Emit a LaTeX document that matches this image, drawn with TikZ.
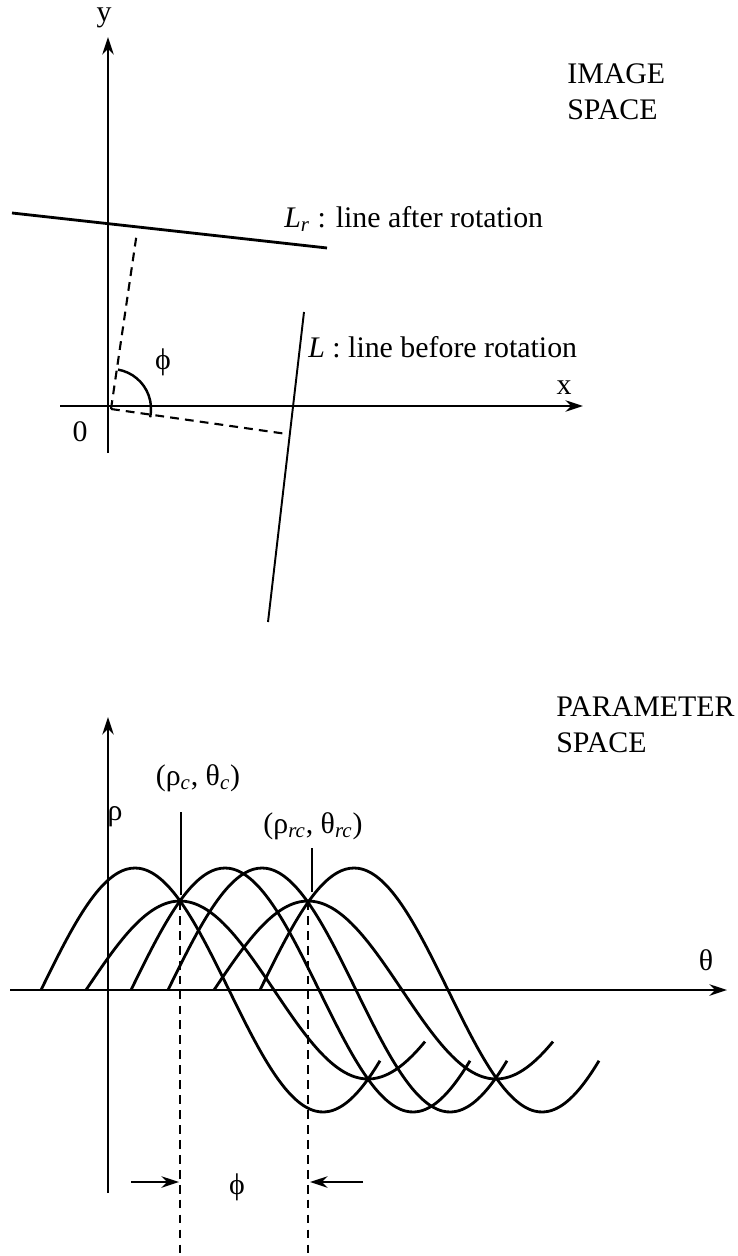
\documentclass[tikz,border=0pt]{standalone}
\usepackage{fontspec}
\setmainfont{Liberation Serif}
\usetikzlibrary{arrows.meta}

\begin{document}
\begin{tikzpicture}[x=0.02cm, y=-0.02cm, font=\fontsize{17}{20.4}\selectfont,
  >={Stealth[length=10pt, width=6.5pt]},
  axis/.style={line width=1.3pt},
  curve/.style={line width=1.6pt},
  guide/.style={line width=1.2pt, dash pattern=on 5pt off 3.5pt}]
\useasboundingbox (0,0) rectangle (737,1256);
% image space: axes and the two lines
\coordinate (yb) at (108,453); \coordinate (yt) at (108,37);
\coordinate (xl) at (60,406); \coordinate (xr) at (583,406);
\coordinate (o) at (111,409);
\coordinate (lr0) at (12,213); \coordinate (lr1) at (327,248);
\coordinate (l0) at (304,312); \coordinate (l1) at (268,622);
\coordinate (fr) at (137,232); \coordinate (f) at (287,434);
\draw[axis, ->] (yb) -- (yt);
\draw[axis, ->] (xl) -- (xr);
\draw[line width=1.6pt] (lr0) -- (lr1);
\draw[line width=1.1pt] (l0) -- (l1);
\draw[guide] (o) -- (fr);
\draw[guide] (o) -- (f);
\draw[line width=1.4pt] (o) ++(7,-39.4) arc[start angle=-80, end angle=12, radius=40];
\node (ylab) at (104,18) {y};
\node (xlab) at (564,388) {x};
\node (olab) at (80,432) {0};
\node (phi) at (163,362) {ϕ};
\node[anchor=west, inner sep=0pt] (lrlab) at (284,219) {\textit{L}\textsubscript{\textit{r}} : line after rotation};
\node[anchor=west, inner sep=0pt] (llab) at (308,347) {\textit{L} : line before rotation};
\node[anchor=west, align=left, inner sep=0pt] (img) at (567,92) {IMAGE\\SPACE};
% parameter space: one sinusoid per line point
\coordinate (rb) at (108,1193); \coordinate (rt) at (108,717);
\coordinate (tl) at (10,990); \coordinate (tr) at (727,990);
\draw[axis, ->] (rb) -- (rt);
\draw[axis, ->] (tl) -- (tr);
\foreach \p/\a [evaluate=\p as \s using \p-94, evaluate=\p as \e using \p+245] in
  {135/122, 180/89, 225/122, 262/122, 308/89, 354/122}
  \draw[curve] plot[domain=\s:\e, samples=80, smooth] (\x, {990-\a*cos((\x-\p)/188*180)});
\coordinate (c) at (180,901); \coordinate (rc) at (308,901);
\coordinate (ct) at (181,812); \coordinate (cm) at (181,895); \coordinate (cb) at (180,1256);
\coordinate (rct) at (312,848); \coordinate (rcm) at (312,892); \coordinate (rcb) at (308,1256);
\draw[axis] (ct) -- (cm);
\draw[axis] (rct) -- (rcm);
\draw[guide] (c) -- (cb);
\draw[guide] (rc) -- (rcb);
\node (rho) at (115,817) {ρ};
\node (theta) at (706,960) {θ};
\node (clab) at (198,778) {(ρ\textsubscript{\textit{c}}, θ\textsubscript{\textit{c}})};
\node (rclab) at (313,826) {(ρ\textsubscript{\textit{rc}}, θ\textsubscript{\textit{rc}})};
\node[anchor=west, align=left, inner sep=0pt] (par) at (556,725) {PARAMETER\\SPACE};
% shift between the two peaks
\coordinate (al) at (131,1182); \coordinate (ae) at (179,1182);
\coordinate (ar) at (363,1182); \coordinate (as) at (310,1182);
\draw[axis, ->] (al) -- (ae);
\draw[axis, ->] (ar) -- (as);
\node (shift) at (237,1187) {ϕ};
\end{tikzpicture}
\end{document}
